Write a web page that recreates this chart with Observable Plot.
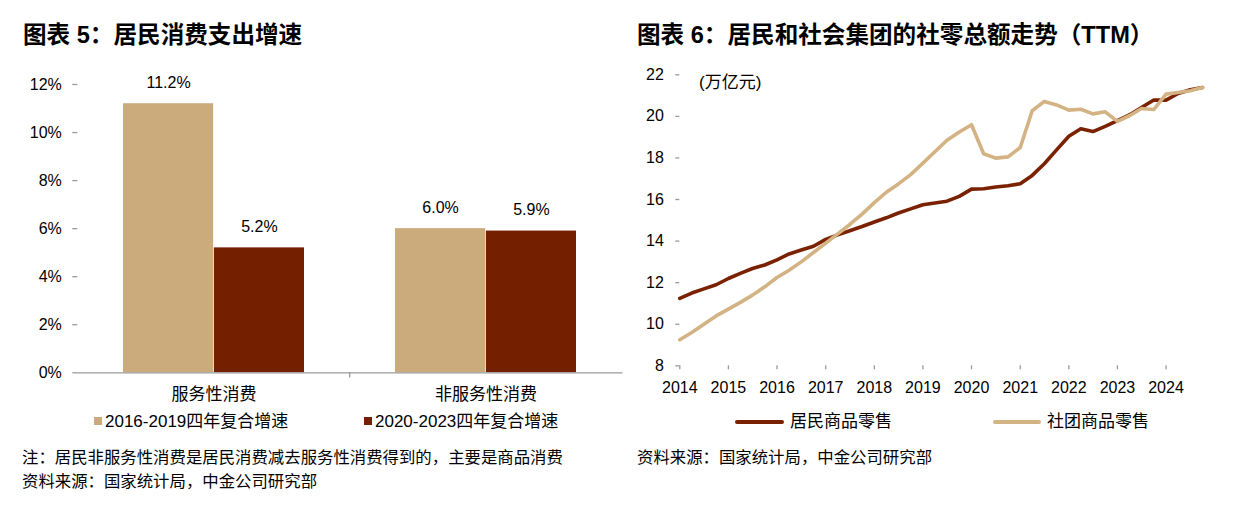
<!DOCTYPE html>
<html><head><meta charset="utf-8">
<script src="https://cdn.jsdelivr.net/npm/d3@7"></script>
<script src="https://cdn.jsdelivr.net/npm/@observablehq/plot@0.6"></script>
<style>
body{margin:0;width:1246px;height:506px;position:relative;background:#fff;font-family:"Liberation Sans",Arial,"Noto Sans CJK SC",sans-serif;color:#000;overflow:hidden}
.abs{position:absolute;white-space:nowrap}
.title{font-size:23.6px;font-weight:bold;line-height:24px}
.t17{font-size:17px;line-height:17px}
.t16{font-size:16.4px;line-height:16px}
.sq{position:absolute;width:8px;height:8px}
.ln{position:absolute;height:4px;border-radius:2px}
#left,#right{position:absolute;top:60px}
#left{left:0}
#right{left:630px}
</style></head><body>
<div class="abs title" style="left:23px;top:23px">图表 5：居民消费支出增速</div>
<div class="abs title" style="left:637px;top:23px">图表 6：居民和社会集团的社零总额走势（TTM）</div>
<div id="left"></div>
<div id="right"></div>
<div class="abs t17" style="left:699px;top:74px">(万亿元)</div>
<div id="legendL"></div>
<div id="legendR"></div>
<div class="abs t16" style="left:22px;top:449px">注：居民非服务性消费是居民消费减去服务性消费得到的，主要是商品消费</div>
<div class="abs t16" style="left:22px;top:473px">资料来源：国家统计局，中金公司研究部</div>
<div class="abs t16" style="left:637px;top:449px">资料来源：国家统计局，中金公司研究部</div>
<script>
// ---------- data: chart 5 ----------
const categories = ["服务性消费", "非服务性消费"];
const seriesNames = ["2016-2019四年复合增速", "2020-2023四年复合增速"];
const growth2016_2019 = [11.2, 6.0];
const growth2020_2023 = [5.2, 5.9];
const leftTicks = [0, 2, 4, 6, 8, 10, 12];

// ---------- data: chart 6 ----------
const quarters = ["2014-01","2014-04","2014-07","2014-10","2015-01","2015-04","2015-07","2015-10",
  "2016-01","2016-04","2016-07","2016-10","2017-01","2017-04","2017-07","2017-10",
  "2018-01","2018-04","2018-07","2018-10","2019-01","2019-04","2019-07","2019-10",
  "2020-01","2020-04","2020-07","2020-10","2021-01","2021-04","2021-07","2021-10",
  "2022-01","2022-04","2022-07","2022-10","2023-01","2023-04","2023-07","2023-10",
  "2024-01","2024-04","2024-07","2024-10"];
const residentRetail = [11.24, 11.5, 11.7, 11.9, 12.2, 12.45, 12.68, 12.85, 13.1, 13.38,
  13.57, 13.75, 14.08, 14.3, 14.5, 14.7, 14.92, 15.12, 15.35, 15.55,
  15.75, 15.83, 15.92, 16.15, 16.5, 16.52, 16.6, 16.66, 16.76, 17.16,
  17.72, 18.39, 19.04, 19.4, 19.27, 19.52, 19.8, 20.07, 20.43, 20.79,
  20.78, 21.1, 21.28, 21.39];
const groupRetail = [9.25, 9.6, 10.0, 10.4, 10.73, 11.05, 11.4, 11.8, 12.25, 12.6,
  13.0, 13.45, 13.9, 14.35, 14.8, 15.3, 15.85, 16.35, 16.75, 17.2,
  17.75, 18.3, 18.85, 19.25, 19.6, 18.2, 17.99, 18.05, 18.5, 20.27,
  20.72, 20.55, 20.3, 20.34, 20.12, 20.22, 19.76, 20.03, 20.38, 20.33,
  21.07, 21.15, 21.23, 21.39];
const lineNames = ["居民商品零售", "社团商品零售"];
const yearLabels = [2014, 2015, 2016, 2017, 2018, 2019, 2020, 2021, 2022, 2023, 2024];
const rightTicks = [8, 10, 12, 14, 16, 18, 20, 22];

// ---------- styles ----------
const lightBar = "#CBAA7C", darkBar = "#731F00";
const lightLine = "#D3B384", darkLine = "#7A2100";
const axisGray = "#9a9a9a";
const font = '"Liberation Sans", Arial, "Noto Sans CJK SC", sans-serif';

// ---------- chart 5 ----------
const W1 = 630, H1 = 345, mL1 = 77.3, mR1 = 7.5, mT1 = 24, mB1 = 32.7;
const step1 = (W1 - mL1 - mR1) / categories.length;
const band1 = step1 * 2 / 3;
const rowsA = categories.map((c, i) => ({category: c, series: seriesNames[0], value: growth2016_2019[i]}));
const rowsB = categories.map((c, i) => ({category: c, series: seriesNames[1], value: growth2020_2023[i]}));

const left = Plot.plot({
  width: W1, height: H1, marginLeft: mL1, marginRight: mR1, marginTop: mT1, marginBottom: mB1,
  style: {fontFamily: font, fontSize: "16px", background: "transparent", color: "#000"},
  x: {domain: categories, paddingInner: 1/3, paddingOuter: 1/6},
  y: {domain: [0, 12]},
  marks: [
    Plot.barY(rowsA, {x: "category", y: "value", fill: lightBar, insetRight: band1 / 2}),
    Plot.barY(rowsB, {x: "category", y: "value", fill: darkBar, insetLeft: band1 / 2}),
    Plot.text(rowsA, {x: "category", y: "value", text: d => d.value.toFixed(1) + "%", dx: -band1 / 4, dy: -21, fontSize: 16, fill: "#000"}),
    Plot.text(rowsB, {x: "category", y: "value", text: d => d.value.toFixed(1) + "%", dx: band1 / 4, dy: -21, fontSize: 16, fill: "#000"}),
    Plot.ruleY([0], {stroke: axisGray, strokeWidth: 1.3}),
    Plot.ruleX([categories[1]], {x: d => d, dx: -step1 / 2, y1: 0, y2: -0.22, stroke: axisGray, strokeWidth: 1.3}),
    Plot.axisY({ticks: leftTicks, tickFormat: d => d + "%", tickSize: 5, tickPadding: 11, line: true, stroke: axisGray, strokeWidth: 1.3, fill: "#000", fontSize: 16, label: null}),
    Plot.axisX({tickSize: 0, tickPadding: 15, fontSize: 17, fill: "#000", label: null})
  ]
});
document.getElementById("left").appendChild(left);

// ---------- chart 6 ----------
const parseQ = d3.utcParse("%Y-%m");
const dates = quarters.map(parseQ);
const rowsRes = dates.map((d, i) => ({date: d, value: residentRetail[i]}));
const rowsGrp = dates.map((d, i) => ({date: d, value: groupRetail[i]}));
const yearTicks = yearLabels.map(y => new Date(Date.UTC(y, 0, 1)));

const W2 = 616, H2 = 345, mL2 = 49.3, mR2 = 44, mT2 = 14.3, mB2 = 39.7;
const right = Plot.plot({
  width: W2, height: H2, marginLeft: mL2, marginRight: mR2, marginTop: mT2, marginBottom: mB2,
  style: {fontFamily: font, fontSize: "16px", background: "transparent", color: "#000"},
  x: {type: "utc", domain: [dates[0], dates[dates.length - 1]]},
  y: {domain: [8, 22]},
  marks: [
    Plot.axisY({ticks: rightTicks, tickSize: 4, tickPadding: 12, line: true, stroke: axisGray, strokeWidth: 1.3, fill: "#000", fontSize: 16, label: null}),
    Plot.axisX({ticks: yearTicks, tickFormat: d3.utcFormat("%Y"), tickSize: 4, tickPadding: 12, line: true, stroke: axisGray, strokeWidth: 1.3, fill: "#000", fontSize: 16, label: null}),
    Plot.lineY(rowsRes, {x: "date", y: "value", stroke: darkLine, strokeWidth: 3.6, strokeLinejoin: "round"}),
    Plot.lineY(rowsGrp, {x: "date", y: "value", stroke: lightLine, strokeWidth: 3.6, strokeLinejoin: "round"})
  ]
});
document.getElementById("right").appendChild(right);

// ---------- legends ----------
const lg = document.getElementById("legendL");
lg.innerHTML =
  `<div class="sq" style="left:94px;top:417px;background:${lightBar}"></div>` +
  `<div class="abs t17" style="left:105px;top:413px">${seriesNames[0]}</div>` +
  `<div class="sq" style="left:364px;top:417px;background:${darkBar}"></div>` +
  `<div class="abs t17" style="left:375px;top:413px">${seriesNames[1]}</div>`;
const lr = document.getElementById("legendR");
lr.innerHTML =
  `<div class="ln" style="left:735px;top:420px;width:49px;background:${darkLine}"></div>` +
  `<div class="abs t17" style="left:790px;top:413px">${lineNames[0]}</div>` +
  `<div class="ln" style="left:993px;top:420px;width:48px;background:${lightLine}"></div>` +
  `<div class="abs t17" style="left:1047px;top:413px">${lineNames[1]}</div>`;
</script>
</body></html>
